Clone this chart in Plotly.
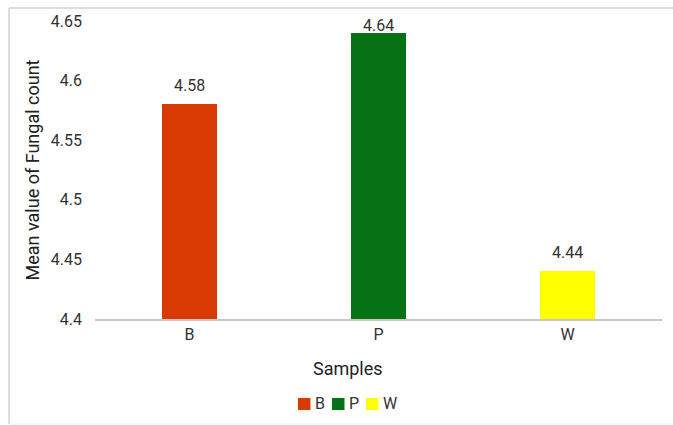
import plotly.graph_objects as go

categories = ["B", "P", "W"]
values = [4.58, 4.64, 4.44]
colors = ["#D93A03", "#067216", "#FFFF00"]
y_ticks = [4.4, 4.45, 4.5, 4.55, 4.6, 4.65]
y_tick_labels = ["4.4", "4.45", "4.5", "4.55", "4.6", "4.65"]
y_range = [4.4, 4.65]

W, H = 673, 425
ml, mr, mt, mb = 95, 11, 21, 106
pw, ph = W - ml - mr, H - mt - mb
FONT = "Roboto, Arial, sans-serif"

def px_x(x):
    return (x - ml) / pw

def px_y(y):
    return (H - mb - y) / ph

fig = go.Figure()
for c, v, col in zip(categories, values, colors):
    fig.add_trace(go.Bar(
        x=[c], y=[v], name=c, marker=dict(color=col, line=dict(width=0)),
        width=0.286, showlegend=False, hoverinfo="skip",
    ))

# value labels above bars, kept inside the plot area (clamped near the top)
annotations = []
label_gap = 20      # label centre above bar top, px
label_min_top = 24  # label centre can't go above this distance from figure top, px
for c, v in zip(categories, values):
    bar_top_from_fig_top = mt + (y_range[1] - v) / (y_range[1] - y_range[0]) * ph
    overflow = max(0.0, label_min_top - (bar_top_from_fig_top - label_gap))
    annotations.append(dict(x=c, y=v, xref="x", yref="y", text=f"{v:.2f}", showarrow=False,
                            yanchor="bottom", yshift=7 - overflow,
                            font=dict(size=16, color="#333333")))

annotations.append(dict(text="Samples", xref="paper", yref="paper", x=px_x(348), y=px_y(368),
                        xanchor="center", yanchor="middle", showarrow=False,
                        font=dict(size=18, color="#222222")))

border = "#DDDDDD"
shapes = [
    dict(type="line", xref="paper", yref="paper", x0=px_x(9), x1=px_x(690), y0=px_y(8), y1=px_y(8),
         line=dict(color=border, width=2), layer="below"),
    dict(type="line", xref="paper", yref="paper", x0=px_x(9), x1=px_x(9), y0=px_y(8), y1=px_y(424),
         line=dict(color=border, width=2), layer="below"),
    dict(type="line", xref="paper", yref="paper", x0=px_x(9), x1=px_x(690), y0=px_y(424), y1=px_y(424),
         line=dict(color="#EEEEEE", width=1), layer="below"),
]

# manual legend
leg_x0 = [298, 332, 366]
leg_y = 404
for i, (c, col) in enumerate(zip(categories, colors)):
    x0 = leg_x0[i]
    shapes.append(dict(type="rect", xref="paper", yref="paper",
                       x0=px_x(x0), x1=px_x(x0 + 12.5), y0=px_y(leg_y + 6), y1=px_y(leg_y - 6),
                       fillcolor=col, line=dict(width=0)))
    annotations.append(dict(text=c, xref="paper", yref="paper", x=px_x(x0 + 15), y=px_y(leg_y),
                            xanchor="left", yanchor="middle", showarrow=False,
                            font=dict(size=16, color="#333333")))

fig.update_layout(
    width=W, height=H,
    margin=dict(l=ml, r=mr, t=mt, b=mb, autoexpand=False),
    paper_bgcolor="white", plot_bgcolor="white",
    font=dict(family=FONT, color="#333333", size=16),
    barmode="overlay",
    bargap=0,
    showlegend=False,
    hovermode=False,
    xaxis=dict(showgrid=False, showline=True, linecolor="#C8C8C8", linewidth=2,
               ticks="", tickfont=dict(size=16, color="#333333"), range=[-0.5, 2.5],
               automargin=False, fixedrange=True),
    yaxis=dict(range=y_range, tickvals=y_ticks, ticktext=y_tick_labels,
               showgrid=False, showline=False, zeroline=False, ticks="",
               ticklabelstandoff=12, automargin=False, fixedrange=True,
               tickfont=dict(size=16, color="#333333"),
               title=dict(text="Mean value of Fungal count", font=dict(size=18, color="#222222"), standoff=6)),
    shapes=shapes,
    annotations=annotations,
)

fig.write_html("out.html", config={"displayModeBar": False, "staticPlot": True},
               post_script="document.body.style.margin='0';document.body.style.overflow='hidden';")
